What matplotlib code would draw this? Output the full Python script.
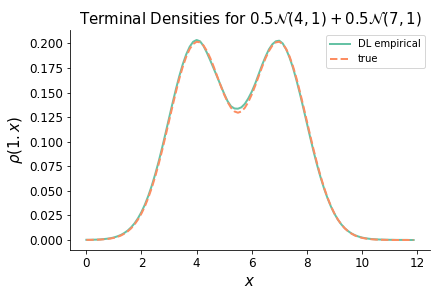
import numpy as np
import matplotlib
matplotlib.use("Agg")
import matplotlib.pyplot as plt

# grid of x values (step 0.125, last point 11.875)
xs = np.arange(96) * 0.125

true_vals = [0.0001, 0.0001, 0.0002, 0.0003, 0.0004, 0.0007, 0.0010, 0.0015,
             0.0022, 0.0032, 0.0045, 0.0064, 0.0088, 0.0119, 0.0159, 0.0209,
             0.0270, 0.0344, 0.0432, 0.0533, 0.0648, 0.0775, 0.0913, 0.1060,
             0.1211, 0.1361, 0.1507, 0.1644, 0.1765, 0.1866, 0.1944, 0.1994,
             0.2017, 0.2011, 0.1979, 0.1923, 0.1848, 0.1760, 0.1664, 0.1569,
             0.1480, 0.1404, 0.1345, 0.1308, 0.1295,
             0.1308, 0.1345, 0.1404, 0.1480, 0.1569, 0.1664, 0.1760, 0.1848,
             0.1923, 0.1979, 0.2011, 0.2017, 0.1994, 0.1944, 0.1866, 0.1765,
             0.1644, 0.1507, 0.1361, 0.1211, 0.1060, 0.0913, 0.0775, 0.0648,
             0.0533, 0.0432, 0.0344, 0.0270, 0.0209, 0.0159, 0.0119, 0.0088,
             0.0064, 0.0045, 0.0032, 0.0022, 0.0015, 0.0010, 0.0007, 0.0004,
             0.0003, 0.0002, 0.0001, 0.0001,
             0.0000, 0.0000, 0.0000, 0.0000, 0.0000, 0.0000, 0.0000]

dl_vals = [0.0002, 0.0002, 0.0003, 0.0004, 0.0006, 0.0009, 0.0013, 0.0018,
           0.0026, 0.0037, 0.0051, 0.0071, 0.0096, 0.0129, 0.0170, 0.0222,
           0.0285, 0.0361, 0.0451, 0.0554, 0.0671, 0.0800, 0.0940, 0.1088,
           0.1240, 0.1390, 0.1535, 0.1670, 0.1790, 0.1890, 0.1967, 0.2017,
           0.2035, 0.2022, 0.1975, 0.1905, 0.1825, 0.1742, 0.1658, 0.1572,
           0.1488, 0.1412, 0.1360, 0.1338, 0.1336,
           0.1350, 0.1385, 0.1440, 0.1508, 0.1590, 0.1685, 0.1780, 0.1865,
           0.1940, 0.1992, 0.2022, 0.2028, 0.2000, 0.1940, 0.1855, 0.1750,
           0.1625, 0.1487, 0.1340, 0.1190, 0.1040, 0.0895, 0.0760, 0.0636,
           0.0524, 0.0426, 0.0340, 0.0268, 0.0208, 0.0159, 0.0120, 0.0090,
           0.0066, 0.0048, 0.0035, 0.0025,
           0.0018, 0.0013, 0.0009, 0.0007, 0.0005, 0.0004, 0.0003, 0.0002,
           0.0002, 0.0001, 0.0001, 0.0001, 0.0001, 0.0000, 0.0000]

fig = plt.figure(figsize=(439 / 72, 296 / 72), dpi=72)
ax = fig.add_axes([70 / 439, 46 / 296, 360 / 439, 220 / 296])

ax.plot(xs, dl_vals, color="#66c2a5", lw=2, label="DL empirical")
ax.plot(xs, true_vals, color="#fc8d62", lw=2, ls="--", label="true")

ax.set_title(r"Terminal Densities for $0.5\mathcal{N}(4,1) + 0.5\mathcal{N}(7,1)$", fontsize=15)
ax.set_xlabel(r"$x$", fontsize=15)
ax.set_ylabel(r"$\rho(1. x)$", fontsize=15)
ax.tick_params(labelsize=12)
ax.set_yticks(np.arange(0, 0.201, 0.025))
ax.set_xticks(np.arange(0, 13, 2))
ax.spines["top"].set_visible(False)
ax.spines["right"].set_visible(False)
ax.legend(fontsize=10, loc="upper right")

fig.savefig("out.png", dpi=72)
